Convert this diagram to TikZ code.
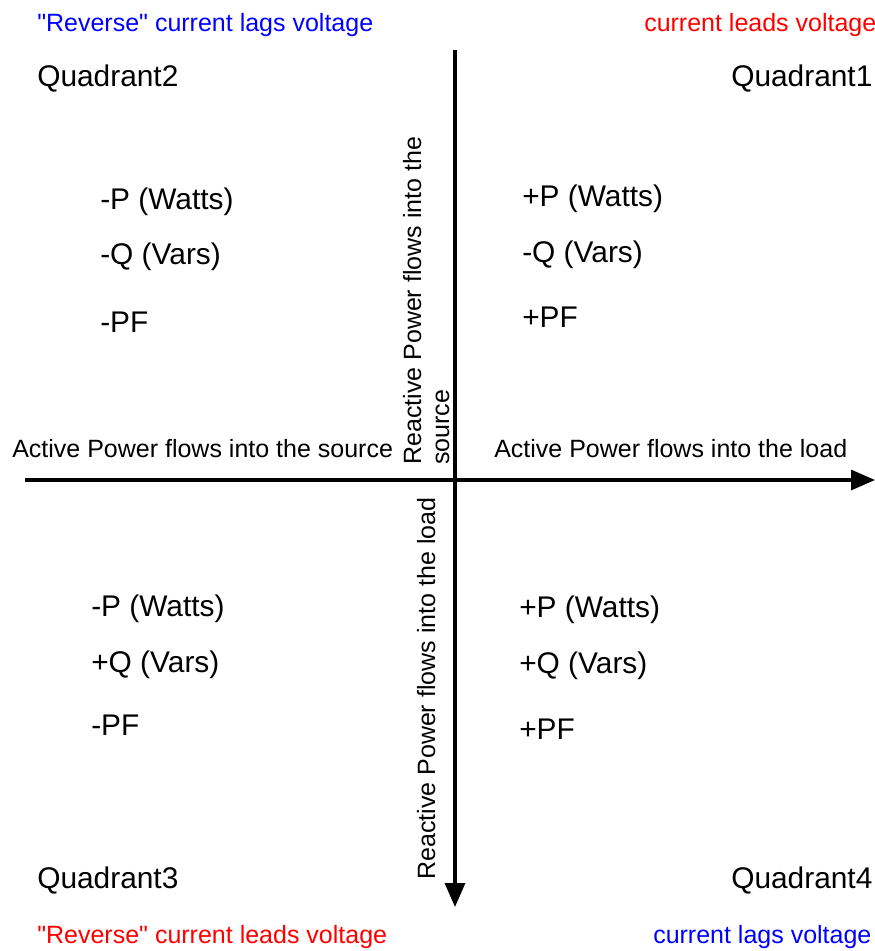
\documentclass[tikz,border=0pt]{standalone}
\usepackage{fontspec}
\setmainfont{Liberation Sans}
\usetikzlibrary{arrows.meta}
\definecolor{pblue}{RGB}{0,0,255}
\definecolor{pred}{RGB}{255,0,0}
\begin{document}
\begin{tikzpicture}[x=0.75pt,y=-0.75pt,
  big/.style={inner sep=0pt,anchor=base west,font=\fontsize{22.4pt}{26pt}\selectfont},
  small/.style={inner sep=0pt,anchor=base west,font=\fontsize{18.75pt}{22pt}\selectfont},
  axis/.style={line width=2.5pt,-{Triangle[length=18pt,width=15pt]}}]
\useasboundingbox (0,0) rectangle (875,951);
% axes
\coordinate (xl) at (25,480);
\coordinate (xr) at (875,480);
\coordinate (yt) at (455,50);
\coordinate (yb) at (455,907);
\draw[axis] (xl) -- (xr);
\draw[axis] (yt) -- (yb);
% top
\node[small,text=pblue] (t1) at (37,31) {\textquotedbl Reverse\textquotedbl{} current lags voltage};
\node[small,text=pred] (t2) at (644,31) {current leads voltage};
\node[big] (q2) at (37,86) {Quadrant2};
\node[big] (q1) at (731,86) {Quadrant1};
% quadrant 2
\node[big] (a1) at (100,209) {-P (Watts)};
\node[big] (a2) at (100,264) {-Q (Vars)};
\node[big] (a3) at (100,332) {-PF};
% quadrant 1
\node[big] (b1) at (522,206) {+P (Watts)};
\node[big] (b2) at (522,262) {-Q (Vars)};
\node[big] (b3) at (522,327) {+PF};
% axis labels
\node[small] (ls) at (12,457) {Active Power flows into the source};
\node[small] (ll) at (494,457) {Active Power flows into the load};
\node[small,rotate=90] (rs1) at (421,465) {Reactive Power flows into the};
\node[small,rotate=90] (rs2) at (449,465) {source};
\node[small,rotate=90] (rl) at (435,880) {Reactive Power flows into the load};
% quadrant 3
\node[big] (c1) at (91,616) {-P (Watts)};
\node[big] (c2) at (91,672) {+Q (Vars)};
\node[big] (c3) at (91,735) {-PF};
% quadrant 4
\node[big] (d1) at (519,617) {+P (Watts)};
\node[big] (d2) at (519,673) {+Q (Vars)};
\node[big] (d3) at (519,739) {+PF};
% bottom
\node[big] (q3) at (37,888) {Quadrant3};
\node[big] (q4) at (731,888) {Quadrant4};
\node[small,text=pred] (u1) at (37,943) {\textquotedbl Reverse\textquotedbl{} current leads voltage};
\node[small,text=pblue] (u2) at (653,943) {current lags voltage};
\end{tikzpicture}
\end{document}
